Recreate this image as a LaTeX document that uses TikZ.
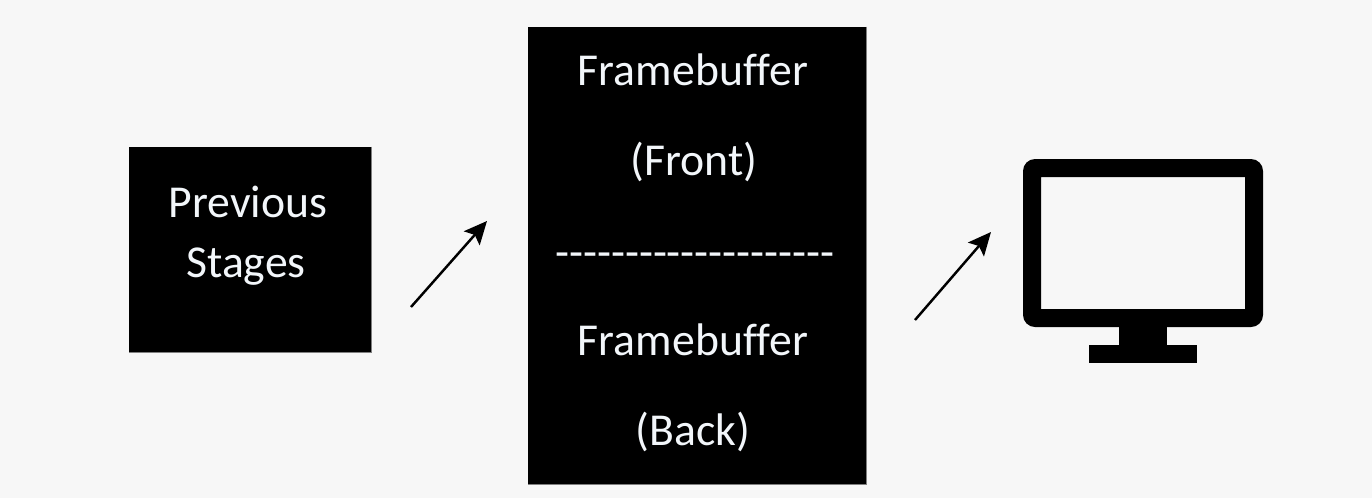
\documentclass[tikz,border=0pt]{standalone}
\usepackage{fontspec}
\usetikzlibrary{arrows.meta}
\newfontfamily\labelfont[Ligatures=NoCommon]{Carlito}
\definecolor{pagegray}{HTML}{F7F7F7}
\definecolor{labelwhite}{HTML}{F2F6FA}

\begin{document}
\begin{tikzpicture}[x=0.02cm, y=-0.02cm,
    boxstyle/.style={fill=black, draw=none, inner sep=0pt},
    labelstyle/.style={text=labelwhite, font=\labelfont\fontsize{26}{26}\selectfont, anchor=base, inner sep=0pt},
    arrowstyle/.style={-{Stealth[length=0.46cm, width=0.42cm, inset=0.09cm]}, line width=1.4pt, black}]
    \fill[pagegray] (0,0) rectangle (1372,498);
    \useasboundingbox (0,0) rectangle (1372,498);

    % boxes
    \node[boxstyle, minimum width=4.84cm, minimum height=4.1cm] (stagesbox) at (250,249.5) {};
    \node[boxstyle, minimum width=6.76cm, minimum height=9.14cm] (bufferbox) at (697,255.5) {};
    \draw[gray, line width=0.7pt] (stagesbox.north east) -- (stagesbox.south east) -- (stagesbox.south west);
    \draw[gray, line width=0.7pt] (bufferbox.north east) -- (bufferbox.south east) -- (bufferbox.south west);

    % labels
    \node[labelstyle] (prevlabel) at (248,217) {Previous};
    \node[labelstyle] (stageslabel) at (246,277) {Stages};
    \node[labelstyle] (frontname) at (693,85) {Framebuffer};
    \node[labelstyle] (frontlabel) at (694,175) {(Front)};
    \node[labelstyle] (dashlabel) at (695,267) {--------------------};
    \node[labelstyle] (backname) at (693,355) {Framebuffer};
    \node[labelstyle] (backlabel) at (693,445) {(Back)};

    % arrows
    \coordinate (stagesout) at (411,307);
    \coordinate (bufferin) at (487,221);
    \coordinate (bufferout) at (915,320);
    \coordinate (monitorin) at (991,232);
    \draw[arrowstyle] (stagesout) -- (bufferin);
    \draw[arrowstyle] (bufferout) -- (monitorin);

    % monitor
    \fill[black, even odd rule, rounded corners=0.24cm] (1023,159) rectangle (1263,327)
        [sharp corners] (1041,177) rectangle (1245,309);
    \fill[black] (1119,327) rectangle (1167,345);
    \fill[black] (1089,345) rectangle (1197,363);
\end{tikzpicture}
\end{document}
